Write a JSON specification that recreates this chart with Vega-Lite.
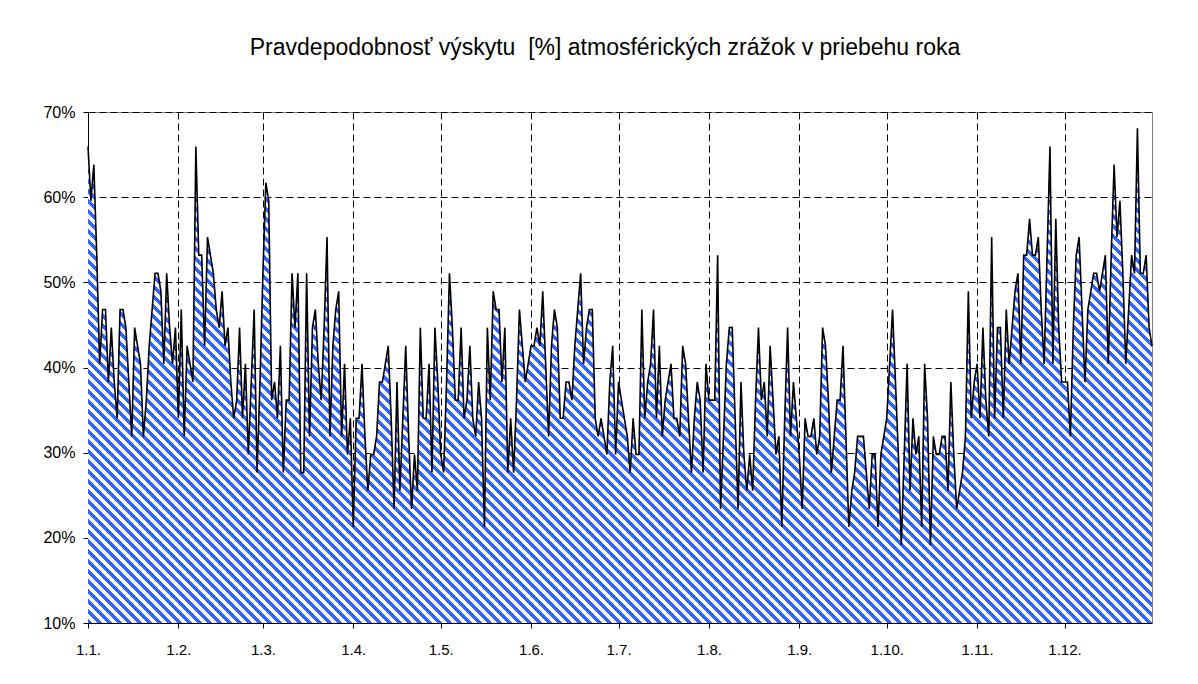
{
"$schema":"https://vega.github.io/schema/vega-lite/v6.json",
"width":1064,"height":511,
"autosize":{"type":"none"},
"padding":{"left":88,"top":112,"right":46,"bottom":61},
"background":"white",
"title":{"text":"Pravdepodobnosť výskytu \u00a0[%] atmosférických zrážok v priebehu roka","font":"Liberation Sans","fontSize":23,"fontWeight":"normal","color":"black","offset":44,"dx":-15},
"config":{"view":{"stroke":"#808080","strokeWidth":1},
"axis":{"title":null,"grid":true,"gridColor":"black","gridDash":[7,4],"gridOpacity":1,"gridWidth":1,"domainColor":"black","domainWidth":1,"tickColor":"black","tickSize":5,"labelFont":"Liberation Sans","labelFontSize":15,"labelColor":"black","labelOverlap":false,"labelFlush":false}},
"data":{"values":[
{"d":0,"p":65.96},{"d":1,"p":59.57},{"d":2,"p":63.83},{"d":3,"p":53.19},{"d":4,"p":40.43},{"d":5,"p":46.81},{"d":6,"p":46.81},{"d":7,"p":38.3},{"d":8,"p":44.68},{"d":9,"p":38.3},
{"d":10,"p":34.04},{"d":11,"p":46.81},{"d":12,"p":46.81},{"d":13,"p":44.68},{"d":14,"p":38.3},{"d":15,"p":31.91},{"d":16,"p":44.68},{"d":17,"p":42.55},{"d":18,"p":40.43},{"d":19,"p":31.91},
{"d":20,"p":36.17},{"d":21,"p":42.55},{"d":22,"p":46.81},{"d":23,"p":51.06},{"d":24,"p":51.06},{"d":25,"p":48.94},{"d":26,"p":40.43},{"d":27,"p":51.06},{"d":28,"p":44.68},{"d":29,"p":40.43},
{"d":30,"p":44.68},{"d":31,"p":34.04},{"d":32,"p":46.81},{"d":33,"p":31.91},{"d":34,"p":42.55},{"d":35,"p":40.43},{"d":36,"p":38.3},{"d":37,"p":65.96},{"d":38,"p":53.19},{"d":39,"p":53.19},
{"d":40,"p":42.55},{"d":41,"p":55.32},{"d":42,"p":53.19},{"d":43,"p":51.06},{"d":44,"p":46.81},{"d":45,"p":44.68},{"d":46,"p":48.94},{"d":47,"p":42.55},{"d":48,"p":44.68},{"d":49,"p":38.3},
{"d":50,"p":34.04},{"d":51,"p":36.17},{"d":52,"p":44.68},{"d":53,"p":34.04},{"d":54,"p":40.43},{"d":55,"p":29.79},{"d":56,"p":38.3},{"d":57,"p":46.81},{"d":58,"p":27.66},{"d":59,"p":38.3},
{"d":60,"p":51.06},{"d":61,"p":61.7},{"d":62,"p":59.57},{"d":63,"p":36.17},{"d":64,"p":38.3},{"d":65,"p":34.04},{"d":66,"p":42.55},{"d":67,"p":27.66},{"d":68,"p":36.17},{"d":69,"p":36.17},
{"d":70,"p":51.06},{"d":71,"p":44.68},{"d":72,"p":51.06},{"d":73,"p":27.66},{"d":74,"p":27.66},{"d":75,"p":51.06},{"d":76,"p":31.91},{"d":77,"p":44.68},{"d":78,"p":46.81},{"d":79,"p":40.43},
{"d":80,"p":36.17},{"d":81,"p":44.68},{"d":82,"p":55.32},{"d":83,"p":31.91},{"d":84,"p":42.55},{"d":85,"p":46.81},{"d":86,"p":48.94},{"d":87,"p":31.91},{"d":88,"p":40.43},{"d":89,"p":29.79},
{"d":90,"p":34.04},{"d":91,"p":21.28},{"d":92,"p":34.04},{"d":93,"p":34.04},{"d":94,"p":40.43},{"d":95,"p":31.91},{"d":96,"p":25.53},{"d":97,"p":29.79},{"d":98,"p":29.79},{"d":99,"p":31.91},
{"d":100,"p":38.3},{"d":101,"p":38.3},{"d":102,"p":40.43},{"d":103,"p":42.55},{"d":104,"p":34.04},{"d":105,"p":23.4},{"d":106,"p":38.3},{"d":107,"p":25.53},{"d":108,"p":34.04},{"d":109,"p":42.55},
{"d":110,"p":31.91},{"d":111,"p":23.4},{"d":112,"p":29.79},{"d":113,"p":25.53},{"d":114,"p":44.68},{"d":115,"p":34.04},{"d":116,"p":34.04},{"d":117,"p":40.43},{"d":118,"p":27.66},{"d":119,"p":44.68},
{"d":120,"p":38.3},{"d":121,"p":29.79},{"d":122,"p":27.66},{"d":123,"p":38.3},{"d":124,"p":51.06},{"d":125,"p":44.68},{"d":126,"p":36.17},{"d":127,"p":36.17},{"d":128,"p":44.68},{"d":129,"p":34.04},
{"d":130,"p":36.17},{"d":131,"p":42.55},{"d":132,"p":34.04},{"d":133,"p":31.91},{"d":134,"p":38.3},{"d":135,"p":34.04},{"d":136,"p":21.28},{"d":137,"p":44.68},{"d":138,"p":36.17},{"d":139,"p":48.94},
{"d":140,"p":46.81},{"d":141,"p":46.81},{"d":142,"p":38.3},{"d":143,"p":44.68},{"d":144,"p":27.66},{"d":145,"p":34.04},{"d":146,"p":27.66},{"d":147,"p":36.17},{"d":148,"p":46.81},{"d":149,"p":42.55},
{"d":150,"p":38.3},{"d":151,"p":40.43},{"d":152,"p":42.55},{"d":153,"p":42.55},{"d":154,"p":44.68},{"d":155,"p":42.55},{"d":156,"p":48.94},{"d":157,"p":40.43},{"d":158,"p":31.91},{"d":159,"p":42.55},
{"d":160,"p":46.81},{"d":161,"p":44.68},{"d":162,"p":34.04},{"d":163,"p":34.04},{"d":164,"p":38.3},{"d":165,"p":38.3},{"d":166,"p":36.17},{"d":167,"p":42.55},{"d":168,"p":46.81},{"d":169,"p":51.06},
{"d":170,"p":40.43},{"d":171,"p":44.68},{"d":172,"p":46.81},{"d":173,"p":46.81},{"d":174,"p":34.04},{"d":175,"p":31.91},{"d":176,"p":34.04},{"d":177,"p":31.91},{"d":178,"p":29.79},{"d":179,"p":38.3},
{"d":180,"p":42.55},{"d":181,"p":29.79},{"d":182,"p":38.3},{"d":183,"p":36.17},{"d":184,"p":34.04},{"d":185,"p":31.91},{"d":186,"p":27.66},{"d":187,"p":34.04},{"d":188,"p":29.79},{"d":189,"p":29.79},
{"d":190,"p":46.81},{"d":191,"p":34.04},{"d":192,"p":38.3},{"d":193,"p":40.43},{"d":194,"p":46.81},{"d":195,"p":34.04},{"d":196,"p":42.55},{"d":197,"p":31.91},{"d":198,"p":36.17},{"d":199,"p":38.3},
{"d":200,"p":40.43},{"d":201,"p":34.04},{"d":202,"p":34.04},{"d":203,"p":31.91},{"d":204,"p":42.55},{"d":205,"p":40.43},{"d":206,"p":34.04},{"d":207,"p":27.66},{"d":208,"p":34.04},{"d":209,"p":38.3},
{"d":210,"p":36.17},{"d":211,"p":27.66},{"d":212,"p":40.43},{"d":213,"p":36.17},{"d":214,"p":36.17},{"d":215,"p":36.17},{"d":216,"p":53.19},{"d":217,"p":23.4},{"d":218,"p":31.91},{"d":219,"p":40.43},
{"d":220,"p":44.68},{"d":221,"p":44.68},{"d":222,"p":34.04},{"d":223,"p":23.4},{"d":224,"p":38.3},{"d":225,"p":29.79},{"d":226,"p":25.53},{"d":227,"p":29.79},{"d":228,"p":25.53},{"d":229,"p":36.17},
{"d":230,"p":44.68},{"d":231,"p":36.17},{"d":232,"p":38.3},{"d":233,"p":31.91},{"d":234,"p":42.55},{"d":235,"p":36.17},{"d":236,"p":29.79},{"d":237,"p":31.91},{"d":238,"p":21.28},{"d":239,"p":34.04},
{"d":240,"p":44.68},{"d":241,"p":31.91},{"d":242,"p":38.3},{"d":243,"p":34.04},{"d":244,"p":29.79},{"d":245,"p":23.4},{"d":246,"p":34.04},{"d":247,"p":31.91},{"d":248,"p":31.91},{"d":249,"p":34.04},
{"d":250,"p":29.79},{"d":251,"p":31.91},{"d":252,"p":44.68},{"d":253,"p":42.55},{"d":254,"p":36.17},{"d":255,"p":27.66},{"d":256,"p":31.91},{"d":257,"p":36.17},{"d":258,"p":36.17},{"d":259,"p":42.55},
{"d":260,"p":31.91},{"d":261,"p":21.28},{"d":262,"p":25.53},{"d":263,"p":27.66},{"d":264,"p":31.91},{"d":265,"p":31.91},{"d":266,"p":31.91},{"d":267,"p":27.66},{"d":268,"p":23.4},{"d":269,"p":29.79},
{"d":270,"p":29.79},{"d":271,"p":21.28},{"d":272,"p":29.79},{"d":273,"p":31.91},{"d":274,"p":34.04},{"d":275,"p":40.43},{"d":276,"p":46.81},{"d":277,"p":38.3},{"d":278,"p":29.79},{"d":279,"p":19.15},
{"d":280,"p":29.79},{"d":281,"p":40.43},{"d":282,"p":25.53},{"d":283,"p":34.04},{"d":284,"p":29.79},{"d":285,"p":31.91},{"d":286,"p":21.28},{"d":287,"p":40.43},{"d":288,"p":34.04},{"d":289,"p":19.15},
{"d":290,"p":31.91},{"d":291,"p":29.79},{"d":292,"p":29.79},{"d":293,"p":31.91},{"d":294,"p":31.91},{"d":295,"p":25.53},{"d":296,"p":38.3},{"d":297,"p":29.79},{"d":298,"p":23.4},{"d":299,"p":25.53},
{"d":300,"p":27.66},{"d":301,"p":31.91},{"d":302,"p":48.94},{"d":303,"p":34.04},{"d":304,"p":38.3},{"d":305,"p":40.43},{"d":306,"p":34.04},{"d":307,"p":44.68},{"d":308,"p":36.17},{"d":309,"p":31.91},
{"d":310,"p":55.32},{"d":311,"p":34.04},{"d":312,"p":44.68},{"d":313,"p":44.68},{"d":314,"p":34.04},{"d":315,"p":46.81},{"d":316,"p":40.43},{"d":317,"p":44.68},{"d":318,"p":48.94},{"d":319,"p":51.06},
{"d":320,"p":40.43},{"d":321,"p":53.19},{"d":322,"p":53.19},{"d":323,"p":57.45},{"d":324,"p":53.19},{"d":325,"p":53.19},{"d":326,"p":55.32},{"d":327,"p":46.81},{"d":328,"p":40.43},{"d":329,"p":53.19},
{"d":330,"p":65.96},{"d":331,"p":40.43},{"d":332,"p":57.45},{"d":333,"p":44.68},{"d":334,"p":38.3},{"d":335,"p":38.3},{"d":336,"p":38.3},{"d":337,"p":31.91},{"d":338,"p":44.68},{"d":339,"p":53.19},
{"d":340,"p":55.32},{"d":341,"p":46.81},{"d":342,"p":38.3},{"d":343,"p":46.81},{"d":344,"p":48.94},{"d":345,"p":51.06},{"d":346,"p":51.06},{"d":347,"p":48.94},{"d":348,"p":51.06},{"d":349,"p":53.19},
{"d":350,"p":40.43},{"d":351,"p":53.19},{"d":352,"p":63.83},{"d":353,"p":55.32},{"d":354,"p":59.57},{"d":355,"p":51.06},{"d":356,"p":40.43},{"d":357,"p":46.81},{"d":358,"p":53.19},{"d":359,"p":51.06},
{"d":360,"p":68.09},{"d":361,"p":51.06},{"d":362,"p":51.06},{"d":363,"p":53.19},{"d":364,"p":44.68},{"d":365,"p":42.55}
]},
"encoding":{
"x":{"field":"d","type":"quantitative","scale":{"domain":[0,365],"nice":false,"zero":false},
"axis":{"values":[0,31,60,91,121,152,182,213,244,274,305,335],"labelExpr":"['1.1.','1.2.','1.3.','1.4.','1.5.','1.6.','1.7.','1.8.','1.9.','1.10.','1.11.','1.12.'][indexof([0,31,60,91,121,152,182,213,244,274,305,335], datum.value)]","labelPadding":14}},
"y":{"field":"p","type":"quantitative","scale":{"domain":[10,70],"nice":false,"zero":false},
"axis":{"values":[10,20,30,40,50,60,70],"labelExpr":"datum.value + '%'","labelPadding":8,"labelFontSize":16}}
},
"layer":[
{"mark":{"type":"area","stroke":null,"fill":{"gradient":"linear","x1":0,"y1":1,"x2":1.5456,"y2":0.2814,"stops":[
{"offset":0,"color":"#36f"},{"offset":0.002,"color":"#36f"},{"offset":0.0025,"color":"#fff"},{"offset":0.0045,"color":"#fff"},{"offset":0.005,"color":"#36f"},{"offset":0.007,"color":"#36f"},{"offset":0.0075,"color":"#fff"},{"offset":0.0095,"color":"#fff"},
{"offset":0.01,"color":"#36f"},{"offset":0.012,"color":"#36f"},{"offset":0.0125,"color":"#fff"},{"offset":0.0145,"color":"#fff"},{"offset":0.015,"color":"#36f"},{"offset":0.017,"color":"#36f"},{"offset":0.0175,"color":"#fff"},{"offset":0.0195,"color":"#fff"},
{"offset":0.02,"color":"#36f"},{"offset":0.022,"color":"#36f"},{"offset":0.0225,"color":"#fff"},{"offset":0.0245,"color":"#fff"},{"offset":0.025,"color":"#36f"},{"offset":0.027,"color":"#36f"},{"offset":0.0275,"color":"#fff"},{"offset":0.0295,"color":"#fff"},
{"offset":0.03,"color":"#36f"},{"offset":0.032,"color":"#36f"},{"offset":0.0325,"color":"#fff"},{"offset":0.0345,"color":"#fff"},{"offset":0.035,"color":"#36f"},{"offset":0.037,"color":"#36f"},{"offset":0.0375,"color":"#fff"},{"offset":0.0395,"color":"#fff"},
{"offset":0.04,"color":"#36f"},{"offset":0.042,"color":"#36f"},{"offset":0.0425,"color":"#fff"},{"offset":0.0445,"color":"#fff"},{"offset":0.045,"color":"#36f"},{"offset":0.047,"color":"#36f"},{"offset":0.0475,"color":"#fff"},{"offset":0.0495,"color":"#fff"},
{"offset":0.05,"color":"#36f"},{"offset":0.052,"color":"#36f"},{"offset":0.0525,"color":"#fff"},{"offset":0.0545,"color":"#fff"},{"offset":0.055,"color":"#36f"},{"offset":0.057,"color":"#36f"},{"offset":0.0575,"color":"#fff"},{"offset":0.0595,"color":"#fff"},
{"offset":0.06,"color":"#36f"},{"offset":0.062,"color":"#36f"},{"offset":0.0625,"color":"#fff"},{"offset":0.0645,"color":"#fff"},{"offset":0.065,"color":"#36f"},{"offset":0.067,"color":"#36f"},{"offset":0.0675,"color":"#fff"},{"offset":0.0695,"color":"#fff"},
{"offset":0.07,"color":"#36f"},{"offset":0.072,"color":"#36f"},{"offset":0.0725,"color":"#fff"},{"offset":0.0745,"color":"#fff"},{"offset":0.075,"color":"#36f"},{"offset":0.077,"color":"#36f"},{"offset":0.0775,"color":"#fff"},{"offset":0.0795,"color":"#fff"},
{"offset":0.08,"color":"#36f"},{"offset":0.082,"color":"#36f"},{"offset":0.0825,"color":"#fff"},{"offset":0.0845,"color":"#fff"},{"offset":0.085,"color":"#36f"},{"offset":0.087,"color":"#36f"},{"offset":0.0875,"color":"#fff"},{"offset":0.0895,"color":"#fff"},
{"offset":0.09,"color":"#36f"},{"offset":0.092,"color":"#36f"},{"offset":0.0925,"color":"#fff"},{"offset":0.0945,"color":"#fff"},{"offset":0.095,"color":"#36f"},{"offset":0.097,"color":"#36f"},{"offset":0.0975,"color":"#fff"},{"offset":0.0995,"color":"#fff"},
{"offset":0.1,"color":"#36f"},{"offset":0.102,"color":"#36f"},{"offset":0.1025,"color":"#fff"},{"offset":0.1045,"color":"#fff"},{"offset":0.105,"color":"#36f"},{"offset":0.107,"color":"#36f"},{"offset":0.1075,"color":"#fff"},{"offset":0.1095,"color":"#fff"},
{"offset":0.11,"color":"#36f"},{"offset":0.112,"color":"#36f"},{"offset":0.1125,"color":"#fff"},{"offset":0.1145,"color":"#fff"},{"offset":0.115,"color":"#36f"},{"offset":0.117,"color":"#36f"},{"offset":0.1175,"color":"#fff"},{"offset":0.1195,"color":"#fff"},
{"offset":0.12,"color":"#36f"},{"offset":0.122,"color":"#36f"},{"offset":0.1225,"color":"#fff"},{"offset":0.1245,"color":"#fff"},{"offset":0.125,"color":"#36f"},{"offset":0.127,"color":"#36f"},{"offset":0.1275,"color":"#fff"},{"offset":0.1295,"color":"#fff"},
{"offset":0.13,"color":"#36f"},{"offset":0.132,"color":"#36f"},{"offset":0.1325,"color":"#fff"},{"offset":0.1345,"color":"#fff"},{"offset":0.135,"color":"#36f"},{"offset":0.137,"color":"#36f"},{"offset":0.1375,"color":"#fff"},{"offset":0.1395,"color":"#fff"},
{"offset":0.14,"color":"#36f"},{"offset":0.142,"color":"#36f"},{"offset":0.1425,"color":"#fff"},{"offset":0.1445,"color":"#fff"},{"offset":0.145,"color":"#36f"},{"offset":0.147,"color":"#36f"},{"offset":0.1475,"color":"#fff"},{"offset":0.1495,"color":"#fff"},
{"offset":0.15,"color":"#36f"},{"offset":0.152,"color":"#36f"},{"offset":0.1525,"color":"#fff"},{"offset":0.1545,"color":"#fff"},{"offset":0.155,"color":"#36f"},{"offset":0.157,"color":"#36f"},{"offset":0.1575,"color":"#fff"},{"offset":0.1595,"color":"#fff"},
{"offset":0.16,"color":"#36f"},{"offset":0.162,"color":"#36f"},{"offset":0.1625,"color":"#fff"},{"offset":0.1645,"color":"#fff"},{"offset":0.165,"color":"#36f"},{"offset":0.167,"color":"#36f"},{"offset":0.1675,"color":"#fff"},{"offset":0.1695,"color":"#fff"},
{"offset":0.17,"color":"#36f"},{"offset":0.172,"color":"#36f"},{"offset":0.1725,"color":"#fff"},{"offset":0.1745,"color":"#fff"},{"offset":0.175,"color":"#36f"},{"offset":0.177,"color":"#36f"},{"offset":0.1775,"color":"#fff"},{"offset":0.1795,"color":"#fff"},
{"offset":0.18,"color":"#36f"},{"offset":0.182,"color":"#36f"},{"offset":0.1825,"color":"#fff"},{"offset":0.1845,"color":"#fff"},{"offset":0.185,"color":"#36f"},{"offset":0.187,"color":"#36f"},{"offset":0.1875,"color":"#fff"},{"offset":0.1895,"color":"#fff"},
{"offset":0.19,"color":"#36f"},{"offset":0.192,"color":"#36f"},{"offset":0.1925,"color":"#fff"},{"offset":0.1945,"color":"#fff"},{"offset":0.195,"color":"#36f"},{"offset":0.197,"color":"#36f"},{"offset":0.1975,"color":"#fff"},{"offset":0.1995,"color":"#fff"},
{"offset":0.2,"color":"#36f"},{"offset":0.202,"color":"#36f"},{"offset":0.2025,"color":"#fff"},{"offset":0.2045,"color":"#fff"},{"offset":0.205,"color":"#36f"},{"offset":0.207,"color":"#36f"},{"offset":0.2075,"color":"#fff"},{"offset":0.2095,"color":"#fff"},
{"offset":0.21,"color":"#36f"},{"offset":0.212,"color":"#36f"},{"offset":0.2125,"color":"#fff"},{"offset":0.2145,"color":"#fff"},{"offset":0.215,"color":"#36f"},{"offset":0.217,"color":"#36f"},{"offset":0.2175,"color":"#fff"},{"offset":0.2195,"color":"#fff"},
{"offset":0.22,"color":"#36f"},{"offset":0.222,"color":"#36f"},{"offset":0.2225,"color":"#fff"},{"offset":0.2245,"color":"#fff"},{"offset":0.225,"color":"#36f"},{"offset":0.227,"color":"#36f"},{"offset":0.2275,"color":"#fff"},{"offset":0.2295,"color":"#fff"},
{"offset":0.23,"color":"#36f"},{"offset":0.232,"color":"#36f"},{"offset":0.2325,"color":"#fff"},{"offset":0.2345,"color":"#fff"},{"offset":0.235,"color":"#36f"},{"offset":0.237,"color":"#36f"},{"offset":0.2375,"color":"#fff"},{"offset":0.2395,"color":"#fff"},
{"offset":0.24,"color":"#36f"},{"offset":0.242,"color":"#36f"},{"offset":0.2425,"color":"#fff"},{"offset":0.2445,"color":"#fff"},{"offset":0.245,"color":"#36f"},{"offset":0.247,"color":"#36f"},{"offset":0.2475,"color":"#fff"},{"offset":0.2495,"color":"#fff"},
{"offset":0.25,"color":"#36f"},{"offset":0.252,"color":"#36f"},{"offset":0.2525,"color":"#fff"},{"offset":0.2545,"color":"#fff"},{"offset":0.255,"color":"#36f"},{"offset":0.257,"color":"#36f"},{"offset":0.2575,"color":"#fff"},{"offset":0.2595,"color":"#fff"},
{"offset":0.26,"color":"#36f"},{"offset":0.262,"color":"#36f"},{"offset":0.2625,"color":"#fff"},{"offset":0.2645,"color":"#fff"},{"offset":0.265,"color":"#36f"},{"offset":0.267,"color":"#36f"},{"offset":0.2675,"color":"#fff"},{"offset":0.2695,"color":"#fff"},
{"offset":0.27,"color":"#36f"},{"offset":0.272,"color":"#36f"},{"offset":0.2725,"color":"#fff"},{"offset":0.2745,"color":"#fff"},{"offset":0.275,"color":"#36f"},{"offset":0.277,"color":"#36f"},{"offset":0.2775,"color":"#fff"},{"offset":0.2795,"color":"#fff"},
{"offset":0.28,"color":"#36f"},{"offset":0.282,"color":"#36f"},{"offset":0.2825,"color":"#fff"},{"offset":0.2845,"color":"#fff"},{"offset":0.285,"color":"#36f"},{"offset":0.287,"color":"#36f"},{"offset":0.2875,"color":"#fff"},{"offset":0.2895,"color":"#fff"},
{"offset":0.29,"color":"#36f"},{"offset":0.292,"color":"#36f"},{"offset":0.2925,"color":"#fff"},{"offset":0.2945,"color":"#fff"},{"offset":0.295,"color":"#36f"},{"offset":0.297,"color":"#36f"},{"offset":0.2975,"color":"#fff"},{"offset":0.2995,"color":"#fff"},
{"offset":0.3,"color":"#36f"},{"offset":0.302,"color":"#36f"},{"offset":0.3025,"color":"#fff"},{"offset":0.3045,"color":"#fff"},{"offset":0.305,"color":"#36f"},{"offset":0.307,"color":"#36f"},{"offset":0.3075,"color":"#fff"},{"offset":0.3095,"color":"#fff"},
{"offset":0.31,"color":"#36f"},{"offset":0.312,"color":"#36f"},{"offset":0.3125,"color":"#fff"},{"offset":0.3145,"color":"#fff"},{"offset":0.315,"color":"#36f"},{"offset":0.317,"color":"#36f"},{"offset":0.3175,"color":"#fff"},{"offset":0.3195,"color":"#fff"},
{"offset":0.32,"color":"#36f"},{"offset":0.322,"color":"#36f"},{"offset":0.3225,"color":"#fff"},{"offset":0.3245,"color":"#fff"},{"offset":0.325,"color":"#36f"},{"offset":0.327,"color":"#36f"},{"offset":0.3275,"color":"#fff"},{"offset":0.3295,"color":"#fff"},
{"offset":0.33,"color":"#36f"},{"offset":0.332,"color":"#36f"},{"offset":0.3325,"color":"#fff"},{"offset":0.3345,"color":"#fff"},{"offset":0.335,"color":"#36f"},{"offset":0.337,"color":"#36f"},{"offset":0.3375,"color":"#fff"},{"offset":0.3395,"color":"#fff"},
{"offset":0.34,"color":"#36f"},{"offset":0.342,"color":"#36f"},{"offset":0.3425,"color":"#fff"},{"offset":0.3445,"color":"#fff"},{"offset":0.345,"color":"#36f"},{"offset":0.347,"color":"#36f"},{"offset":0.3475,"color":"#fff"},{"offset":0.3495,"color":"#fff"},
{"offset":0.35,"color":"#36f"},{"offset":0.352,"color":"#36f"},{"offset":0.3525,"color":"#fff"},{"offset":0.3545,"color":"#fff"},{"offset":0.355,"color":"#36f"},{"offset":0.357,"color":"#36f"},{"offset":0.3575,"color":"#fff"},{"offset":0.3595,"color":"#fff"},
{"offset":0.36,"color":"#36f"},{"offset":0.362,"color":"#36f"},{"offset":0.3625,"color":"#fff"},{"offset":0.3645,"color":"#fff"},{"offset":0.365,"color":"#36f"},{"offset":0.367,"color":"#36f"},{"offset":0.3675,"color":"#fff"},{"offset":0.3695,"color":"#fff"},
{"offset":0.37,"color":"#36f"},{"offset":0.372,"color":"#36f"},{"offset":0.3725,"color":"#fff"},{"offset":0.3745,"color":"#fff"},{"offset":0.375,"color":"#36f"},{"offset":0.377,"color":"#36f"},{"offset":0.3775,"color":"#fff"},{"offset":0.3795,"color":"#fff"},
{"offset":0.38,"color":"#36f"},{"offset":0.382,"color":"#36f"},{"offset":0.3825,"color":"#fff"},{"offset":0.3845,"color":"#fff"},{"offset":0.385,"color":"#36f"},{"offset":0.387,"color":"#36f"},{"offset":0.3875,"color":"#fff"},{"offset":0.3895,"color":"#fff"},
{"offset":0.39,"color":"#36f"},{"offset":0.392,"color":"#36f"},{"offset":0.3925,"color":"#fff"},{"offset":0.3945,"color":"#fff"},{"offset":0.395,"color":"#36f"},{"offset":0.397,"color":"#36f"},{"offset":0.3975,"color":"#fff"},{"offset":0.3995,"color":"#fff"},
{"offset":0.4,"color":"#36f"},{"offset":0.402,"color":"#36f"},{"offset":0.4025,"color":"#fff"},{"offset":0.4045,"color":"#fff"},{"offset":0.405,"color":"#36f"},{"offset":0.407,"color":"#36f"},{"offset":0.4075,"color":"#fff"},{"offset":0.4095,"color":"#fff"},
{"offset":0.41,"color":"#36f"},{"offset":0.412,"color":"#36f"},{"offset":0.4125,"color":"#fff"},{"offset":0.4145,"color":"#fff"},{"offset":0.415,"color":"#36f"},{"offset":0.417,"color":"#36f"},{"offset":0.4175,"color":"#fff"},{"offset":0.4195,"color":"#fff"},
{"offset":0.42,"color":"#36f"},{"offset":0.422,"color":"#36f"},{"offset":0.4225,"color":"#fff"},{"offset":0.4245,"color":"#fff"},{"offset":0.425,"color":"#36f"},{"offset":0.427,"color":"#36f"},{"offset":0.4275,"color":"#fff"},{"offset":0.4295,"color":"#fff"},
{"offset":0.43,"color":"#36f"},{"offset":0.432,"color":"#36f"},{"offset":0.4325,"color":"#fff"},{"offset":0.4345,"color":"#fff"},{"offset":0.435,"color":"#36f"},{"offset":0.437,"color":"#36f"},{"offset":0.4375,"color":"#fff"},{"offset":0.4395,"color":"#fff"},
{"offset":0.44,"color":"#36f"},{"offset":0.442,"color":"#36f"},{"offset":0.4425,"color":"#fff"},{"offset":0.4445,"color":"#fff"},{"offset":0.445,"color":"#36f"},{"offset":0.447,"color":"#36f"},{"offset":0.4475,"color":"#fff"},{"offset":0.4495,"color":"#fff"},
{"offset":0.45,"color":"#36f"},{"offset":0.452,"color":"#36f"},{"offset":0.4525,"color":"#fff"},{"offset":0.4545,"color":"#fff"},{"offset":0.455,"color":"#36f"},{"offset":0.457,"color":"#36f"},{"offset":0.4575,"color":"#fff"},{"offset":0.4595,"color":"#fff"},
{"offset":0.46,"color":"#36f"},{"offset":0.462,"color":"#36f"},{"offset":0.4625,"color":"#fff"},{"offset":0.4645,"color":"#fff"},{"offset":0.465,"color":"#36f"},{"offset":0.467,"color":"#36f"},{"offset":0.4675,"color":"#fff"},{"offset":0.4695,"color":"#fff"},
{"offset":0.47,"color":"#36f"},{"offset":0.472,"color":"#36f"},{"offset":0.4725,"color":"#fff"},{"offset":0.4745,"color":"#fff"},{"offset":0.475,"color":"#36f"},{"offset":0.477,"color":"#36f"},{"offset":0.4775,"color":"#fff"},{"offset":0.4795,"color":"#fff"},
{"offset":0.48,"color":"#36f"},{"offset":0.482,"color":"#36f"},{"offset":0.4825,"color":"#fff"},{"offset":0.4845,"color":"#fff"},{"offset":0.485,"color":"#36f"},{"offset":0.487,"color":"#36f"},{"offset":0.4875,"color":"#fff"},{"offset":0.4895,"color":"#fff"},
{"offset":0.49,"color":"#36f"},{"offset":0.492,"color":"#36f"},{"offset":0.4925,"color":"#fff"},{"offset":0.4945,"color":"#fff"},{"offset":0.495,"color":"#36f"},{"offset":0.497,"color":"#36f"},{"offset":0.4975,"color":"#fff"},{"offset":0.4995,"color":"#fff"},
{"offset":0.5,"color":"#36f"},{"offset":0.502,"color":"#36f"},{"offset":0.5025,"color":"#fff"},{"offset":0.5045,"color":"#fff"},{"offset":0.505,"color":"#36f"},{"offset":0.507,"color":"#36f"},{"offset":0.5075,"color":"#fff"},{"offset":0.5095,"color":"#fff"},
{"offset":0.51,"color":"#36f"},{"offset":0.512,"color":"#36f"},{"offset":0.5125,"color":"#fff"},{"offset":0.5145,"color":"#fff"},{"offset":0.515,"color":"#36f"},{"offset":0.517,"color":"#36f"},{"offset":0.5175,"color":"#fff"},{"offset":0.5195,"color":"#fff"},
{"offset":0.52,"color":"#36f"},{"offset":0.522,"color":"#36f"},{"offset":0.5225,"color":"#fff"},{"offset":0.5245,"color":"#fff"},{"offset":0.525,"color":"#36f"},{"offset":0.527,"color":"#36f"},{"offset":0.5275,"color":"#fff"},{"offset":0.5295,"color":"#fff"},
{"offset":0.53,"color":"#36f"},{"offset":0.532,"color":"#36f"},{"offset":0.5325,"color":"#fff"},{"offset":0.5345,"color":"#fff"},{"offset":0.535,"color":"#36f"},{"offset":0.537,"color":"#36f"},{"offset":0.5375,"color":"#fff"},{"offset":0.5395,"color":"#fff"},
{"offset":0.54,"color":"#36f"},{"offset":0.542,"color":"#36f"},{"offset":0.5425,"color":"#fff"},{"offset":0.5445,"color":"#fff"},{"offset":0.545,"color":"#36f"},{"offset":0.547,"color":"#36f"},{"offset":0.5475,"color":"#fff"},{"offset":0.5495,"color":"#fff"},
{"offset":0.55,"color":"#36f"},{"offset":0.552,"color":"#36f"},{"offset":0.5525,"color":"#fff"},{"offset":0.5545,"color":"#fff"},{"offset":0.555,"color":"#36f"},{"offset":0.557,"color":"#36f"},{"offset":0.5575,"color":"#fff"},{"offset":0.5595,"color":"#fff"},
{"offset":0.56,"color":"#36f"},{"offset":0.562,"color":"#36f"},{"offset":0.5625,"color":"#fff"},{"offset":0.5645,"color":"#fff"},{"offset":0.565,"color":"#36f"},{"offset":0.567,"color":"#36f"},{"offset":0.5675,"color":"#fff"},{"offset":0.5695,"color":"#fff"},
{"offset":0.57,"color":"#36f"},{"offset":0.572,"color":"#36f"},{"offset":0.5725,"color":"#fff"},{"offset":0.5745,"color":"#fff"},{"offset":0.575,"color":"#36f"},{"offset":0.577,"color":"#36f"},{"offset":0.5775,"color":"#fff"},{"offset":0.5795,"color":"#fff"},
{"offset":0.58,"color":"#36f"},{"offset":0.582,"color":"#36f"},{"offset":0.5825,"color":"#fff"},{"offset":0.5845,"color":"#fff"},{"offset":0.585,"color":"#36f"},{"offset":0.587,"color":"#36f"},{"offset":0.5875,"color":"#fff"},{"offset":0.5895,"color":"#fff"},
{"offset":0.59,"color":"#36f"},{"offset":0.592,"color":"#36f"},{"offset":0.5925,"color":"#fff"},{"offset":0.5945,"color":"#fff"},{"offset":0.595,"color":"#36f"},{"offset":0.597,"color":"#36f"},{"offset":0.5975,"color":"#fff"},{"offset":0.5995,"color":"#fff"},
{"offset":0.6,"color":"#36f"},{"offset":0.602,"color":"#36f"},{"offset":0.6025,"color":"#fff"},{"offset":0.6045,"color":"#fff"},{"offset":0.605,"color":"#36f"},{"offset":0.607,"color":"#36f"},{"offset":0.6075,"color":"#fff"},{"offset":0.6095,"color":"#fff"},
{"offset":0.61,"color":"#36f"},{"offset":0.612,"color":"#36f"},{"offset":0.6125,"color":"#fff"},{"offset":0.6145,"color":"#fff"},{"offset":0.615,"color":"#36f"},{"offset":0.617,"color":"#36f"},{"offset":0.6175,"color":"#fff"},{"offset":0.6195,"color":"#fff"},
{"offset":0.62,"color":"#36f"},{"offset":0.622,"color":"#36f"},{"offset":0.6225,"color":"#fff"},{"offset":0.6245,"color":"#fff"},{"offset":0.625,"color":"#36f"},{"offset":0.627,"color":"#36f"},{"offset":0.6275,"color":"#fff"},{"offset":0.6295,"color":"#fff"},
{"offset":0.63,"color":"#36f"},{"offset":0.632,"color":"#36f"},{"offset":0.6325,"color":"#fff"},{"offset":0.6345,"color":"#fff"},{"offset":0.635,"color":"#36f"},{"offset":0.637,"color":"#36f"},{"offset":0.6375,"color":"#fff"},{"offset":0.6395,"color":"#fff"},
{"offset":0.64,"color":"#36f"},{"offset":0.642,"color":"#36f"},{"offset":0.6425,"color":"#fff"},{"offset":0.6445,"color":"#fff"},{"offset":0.645,"color":"#36f"},{"offset":0.647,"color":"#36f"},{"offset":0.6475,"color":"#fff"},{"offset":0.6495,"color":"#fff"},
{"offset":0.65,"color":"#36f"},{"offset":0.652,"color":"#36f"},{"offset":0.6525,"color":"#fff"},{"offset":0.6545,"color":"#fff"},{"offset":0.655,"color":"#36f"},{"offset":0.657,"color":"#36f"},{"offset":0.6575,"color":"#fff"},{"offset":0.6595,"color":"#fff"},
{"offset":0.66,"color":"#36f"},{"offset":0.662,"color":"#36f"},{"offset":0.6625,"color":"#fff"},{"offset":0.6645,"color":"#fff"},{"offset":0.665,"color":"#36f"},{"offset":0.667,"color":"#36f"},{"offset":0.6675,"color":"#fff"},{"offset":0.6695,"color":"#fff"},
{"offset":0.67,"color":"#36f"},{"offset":0.672,"color":"#36f"},{"offset":0.6725,"color":"#fff"},{"offset":0.6745,"color":"#fff"},{"offset":0.675,"color":"#36f"},{"offset":0.677,"color":"#36f"},{"offset":0.6775,"color":"#fff"},{"offset":0.6795,"color":"#fff"},
{"offset":0.68,"color":"#36f"},{"offset":0.682,"color":"#36f"},{"offset":0.6825,"color":"#fff"},{"offset":0.6845,"color":"#fff"},{"offset":0.685,"color":"#36f"},{"offset":0.687,"color":"#36f"},{"offset":0.6875,"color":"#fff"},{"offset":0.6895,"color":"#fff"},
{"offset":0.69,"color":"#36f"},{"offset":0.692,"color":"#36f"},{"offset":0.6925,"color":"#fff"},{"offset":0.6945,"color":"#fff"},{"offset":0.695,"color":"#36f"},{"offset":0.697,"color":"#36f"},{"offset":0.6975,"color":"#fff"},{"offset":0.6995,"color":"#fff"},
{"offset":0.7,"color":"#36f"},{"offset":0.702,"color":"#36f"},{"offset":0.7025,"color":"#fff"},{"offset":0.7045,"color":"#fff"},{"offset":0.705,"color":"#36f"},{"offset":0.707,"color":"#36f"},{"offset":0.7075,"color":"#fff"},{"offset":0.7095,"color":"#fff"},
{"offset":0.71,"color":"#36f"},{"offset":0.712,"color":"#36f"},{"offset":0.7125,"color":"#fff"},{"offset":0.7145,"color":"#fff"},{"offset":0.715,"color":"#36f"},{"offset":0.717,"color":"#36f"},{"offset":0.7175,"color":"#fff"},{"offset":0.7195,"color":"#fff"},
{"offset":0.72,"color":"#36f"},{"offset":0.722,"color":"#36f"},{"offset":0.7225,"color":"#fff"},{"offset":0.7245,"color":"#fff"},{"offset":0.725,"color":"#36f"},{"offset":0.727,"color":"#36f"},{"offset":0.7275,"color":"#fff"},{"offset":0.7295,"color":"#fff"},
{"offset":0.73,"color":"#36f"},{"offset":0.732,"color":"#36f"},{"offset":0.7325,"color":"#fff"},{"offset":0.7345,"color":"#fff"},{"offset":0.735,"color":"#36f"},{"offset":0.737,"color":"#36f"},{"offset":0.7375,"color":"#fff"},{"offset":0.7395,"color":"#fff"},
{"offset":0.74,"color":"#36f"},{"offset":0.742,"color":"#36f"},{"offset":0.7425,"color":"#fff"},{"offset":0.7445,"color":"#fff"},{"offset":0.745,"color":"#36f"},{"offset":0.747,"color":"#36f"},{"offset":0.7475,"color":"#fff"},{"offset":0.7495,"color":"#fff"},
{"offset":0.75,"color":"#36f"},{"offset":0.752,"color":"#36f"},{"offset":0.7525,"color":"#fff"},{"offset":0.7545,"color":"#fff"},{"offset":0.755,"color":"#36f"},{"offset":0.757,"color":"#36f"},{"offset":0.7575,"color":"#fff"},{"offset":0.7595,"color":"#fff"},
{"offset":0.76,"color":"#36f"},{"offset":0.762,"color":"#36f"},{"offset":0.7625,"color":"#fff"},{"offset":0.7645,"color":"#fff"},{"offset":0.765,"color":"#36f"},{"offset":0.767,"color":"#36f"},{"offset":0.7675,"color":"#fff"},{"offset":0.7695,"color":"#fff"},
{"offset":0.77,"color":"#36f"},{"offset":0.772,"color":"#36f"},{"offset":0.7725,"color":"#fff"},{"offset":0.7745,"color":"#fff"},{"offset":0.775,"color":"#36f"},{"offset":0.777,"color":"#36f"},{"offset":0.7775,"color":"#fff"},{"offset":0.7795,"color":"#fff"},
{"offset":0.78,"color":"#36f"},{"offset":0.782,"color":"#36f"},{"offset":0.7825,"color":"#fff"},{"offset":0.7845,"color":"#fff"},{"offset":0.785,"color":"#36f"},{"offset":0.787,"color":"#36f"},{"offset":0.7875,"color":"#fff"},{"offset":0.7895,"color":"#fff"},
{"offset":0.79,"color":"#36f"},{"offset":0.792,"color":"#36f"},{"offset":0.7925,"color":"#fff"},{"offset":0.7945,"color":"#fff"},{"offset":0.795,"color":"#36f"},{"offset":0.797,"color":"#36f"},{"offset":0.7975,"color":"#fff"},{"offset":0.7995,"color":"#fff"}
]}},"encoding":{"y2":{"datum":10}}},
{"mark":{"type":"line","color":"black","strokeWidth":1.6}}
]
}
